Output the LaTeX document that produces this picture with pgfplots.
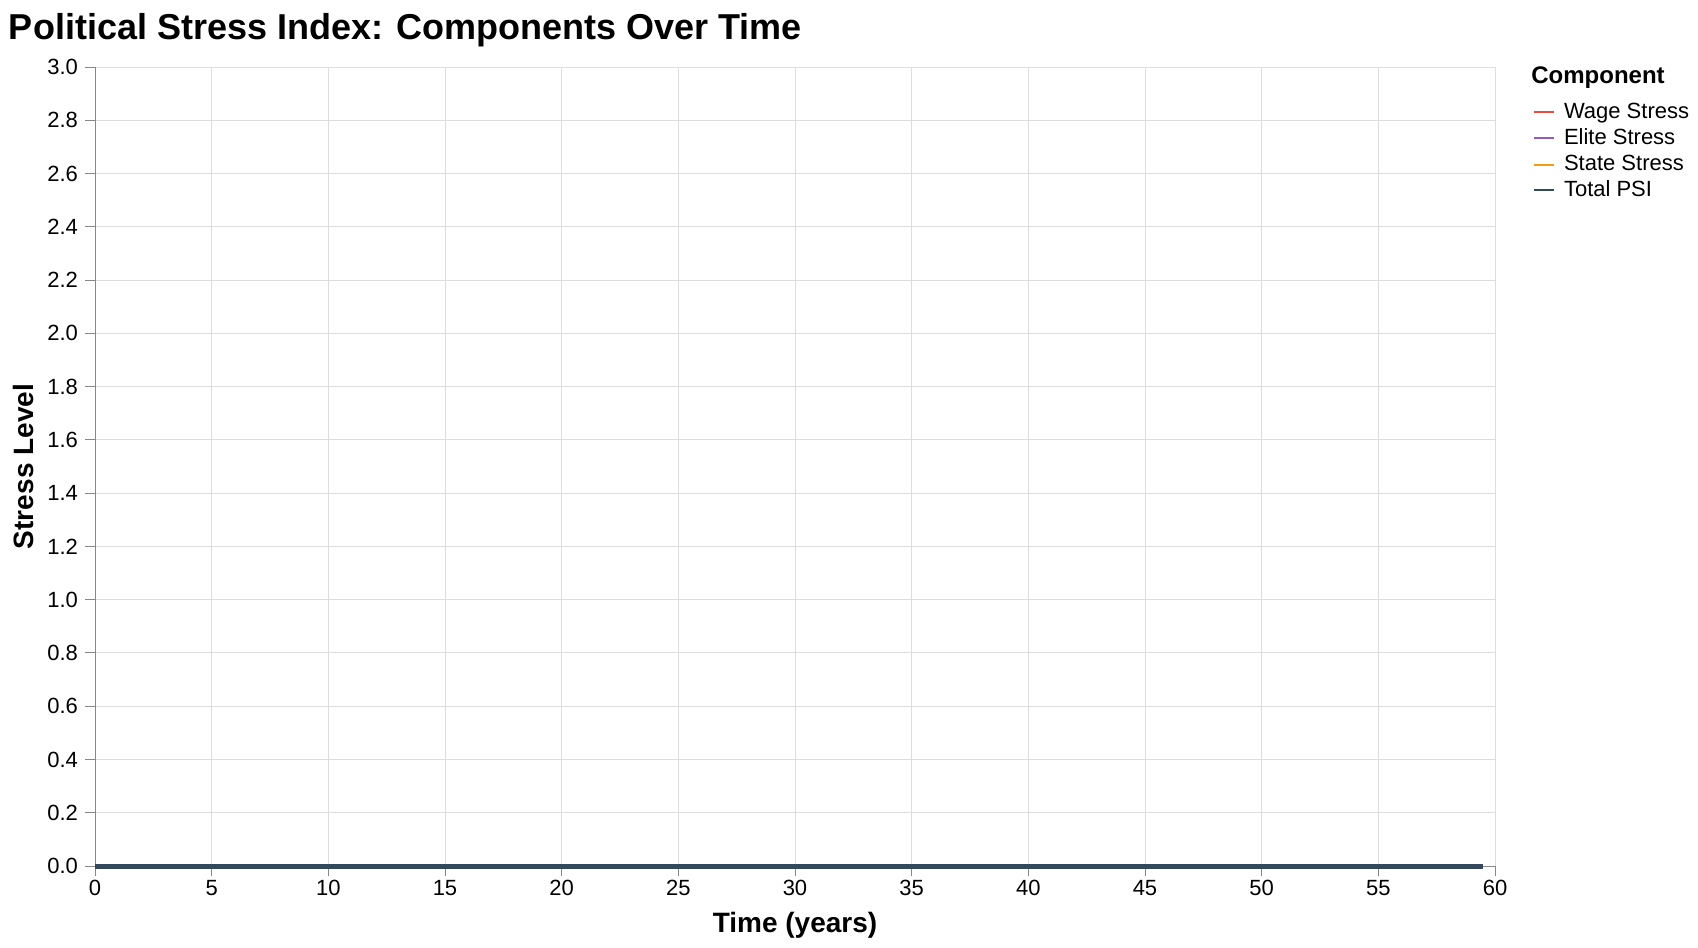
\documentclass[border=0pt]{standalone}
\usepackage{pgfplots}
\pgfplotsset{compat=1.18}
\usepackage{fontspec}
\setmainfont{Liberation Sans}
\definecolor{wage}{HTML}{E74C3C}
\definecolor{elite}{HTML}{9B59B6}
\definecolor{state}{HTML}{F39C12}
\definecolor{total}{HTML}{34495E}
\definecolor{gridc}{HTML}{DDDDDD}
\definecolor{axc}{HTML}{888888}
\begin{document}
\begin{tikzpicture}
\useasboundingbox (0,0) rectangle (849pt,-474pt);
\node[anchor=base west, inner sep=0pt, font=\fontsize{18}{20}\selectfont\bfseries] at (4.3pt,-19.6pt) {Political Stress Index: Components Over Time};
\begin{axis}[
  at={(47.5pt,-433pt)}, anchor=south west,
  scale only axis, width=700pt, height=399.5pt,
  xmin=0, xmax=60, ymin=0, ymax=3,
  xtick={0,5,...,60}, ytick={0,0.2,...,3.01},
  grid=major, major grid style={gridc, line width=0.5pt},
  axis x line*=bottom, axis y line*=left,
  axis line style={axc, line width=0.5pt, -},
  tick style={axc, line width=0.5pt},
  tick align=outside, major tick length=5pt,
  /pgf/number format/assume math mode=true,
  ticklabel style={font=\fontsize{11}{13}\selectfont},
  xticklabel style={yshift=1.5pt},
  yticklabel style={/pgf/number format/.cd, fixed, fixed zerofill, precision=1},
  xlabel={Time (years)}, ylabel={Stress Level},
  xlabel style={font=\fontsize{14}{16}\selectfont\bfseries, at={(axis description cs:0.5,-0.0838)}, anchor=base, inner sep=0pt},
  ylabel style={font=\fontsize{14}{16}\selectfont\bfseries, at={(axis description cs:-0.0437,0.5)}, anchor=base, inner sep=0pt},
  clip=false,
  legend style={at={(axis description cs:1.02643,0.95119)}, anchor=north west, draw=none, fill=none, inner sep=0pt, column sep=4.6pt, font=\fontsize{11}{13}\selectfont,
    nodes={inner sep=0pt, text height=6.2pt, text depth=6.8pt}},
  legend cell align=left,
  legend image code/.code={\draw[#1, line width=1.2pt] (0pt,3.6pt) -- (10pt,3.6pt);},
]
\addplot[wage, line width=1pt] coordinates {(0,0)(5,0)(10,0)(15,0)(20,0)(25,0)(30,0)(35,0)(40,0)(45,0)(50,0)(55,0)(59.5,0)};
\addlegendentry{Wage Stress}
\addplot[elite, line width=1pt] coordinates {(0,0)(5,0)(10,0)(15,0)(20,0)(25,0)(30,0)(35,0)(40,0)(45,0)(50,0)(55,0)(59.5,0)};
\addlegendentry{Elite Stress}
\addplot[state, line width=1pt, yshift=-0.3pt] coordinates {(0,0)(5,0)(10,0)(15,0)(20,0)(25,0)(30,0)(35,0)(40,0)(45,0)(50,0)(55,0)(59.5,0)};
\addlegendentry{State Stress}
\addplot[total, line width=2.5pt] coordinates {(0,0)(5,0)(10,0)(15,0)(20,0)(25,0)(30,0)(35,0)(40,0)(45,0)(50,0)(55,0)(59.5,0)};
\addlegendentry{Total PSI}
\end{axis}
\node[anchor=base west, inner sep=0pt, font=\fontsize{12}{14}\selectfont\bfseries] at (765.5pt,-41.7pt) {Component};
\end{tikzpicture}
\end{document}
